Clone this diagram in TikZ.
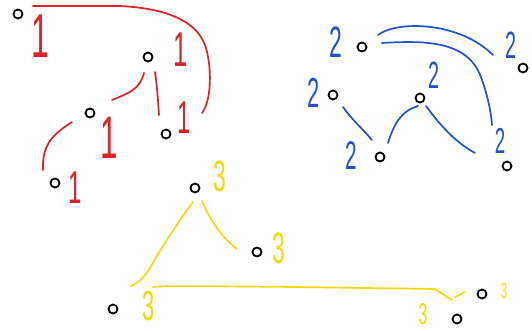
\documentclass[tikz,border=0pt]{standalone}
\usepackage{fontspec}
\usepackage{graphicx}
\setmainfont{Liberation Sans}
\definecolor{hred}{RGB}{222,34,38}
\definecolor{hblue}{RGB}{32,84,204}
\definecolor{hyel}{RGB}{242,218,10}
\newcommand\hdigit[2]{\scalebox{0.52}[1]{\fontsize{#1}{#1}\selectfont #2}}
\begin{document}
\begin{tikzpicture}[x=1pt,y=-1pt,
  dot/.style={circle,draw=black,line width=1.8pt,inner sep=0pt,minimum size=9pt},
  stroke/.style={line width=1.7pt,line cap=round},
  lbl/.style={inner sep=0pt,anchor=center}]
\useasboundingbox[fill=white] (0,0) rectangle (532,331);

% ---------- red group ----------
\node[dot] (a1) at (18,14) {};
\node[dot] (a2) at (148,57) {};
\node[dot] (a3) at (90,113) {};
\node[dot] (a4) at (166,134) {};
\node[dot] (a5) at (55,183) {};
\node[lbl,text=hred] (la1) at (40,36) {\hdigit{62}{1}};
\node[lbl,text=hred] (la2) at (181,50) {\hdigit{49}{1}};
\node[lbl,text=hred] (la3) at (109,138) {\hdigit{60}{1}};
\node[lbl,text=hred] (la4) at (184,118) {\hdigit{46}{1}};
\node[lbl,text=hred] (la5) at (75,188) {\hdigit{46}{1}};
\coordinate (r1s) at (33,6);
\coordinate (r1e) at (202,113);
\coordinate (r2s) at (144,73);
\coordinate (r2e) at (112,100);
\coordinate (r3s) at (155,72);
\coordinate (r3e) at (159,115);
\coordinate (r4s) at (72,122);
\coordinate (r4e) at (43,170);
\draw[stroke,hred] (r1s) -- (120,6) .. controls (160,8) and (195,18) .. (205,45)
  .. controls (212,65) and (212,100) .. (r1e);
\draw[stroke,hred] (r2s) .. controls (140,88) and (132,92) .. (r2e);
\draw[stroke,hred] (r3s) .. controls (157,85) and (158,100) .. (r3e);
\draw[stroke,hred] (r4s) .. controls (52,135) and (42,145) .. (r4e);

% ---------- blue group ----------
\node[dot] (c1) at (362,47) {};
\node[dot] (c2) at (523,68) {};
\node[dot] (c3) at (333,95) {};
\node[dot] (c4) at (420,98) {};
\node[dot] (c5) at (380,157) {};
\node[dot] (c6) at (507,166) {};
\node[lbl,text=hblue] (lc1) at (336,42) {\hdigit{44}{2}};
\node[lbl,text=hblue] (lc2) at (511,45) {\hdigit{38}{2}};
\node[lbl,text=hblue] (lc3) at (314,93) {\hdigit{42}{2}};
\node[lbl,text=hblue] (lc4) at (434,75) {\hdigit{38}{2}};
\node[lbl,text=hblue] (lc5) at (351,156) {\hdigit{40}{2}};
\node[lbl,text=hblue] (lc6) at (500,141) {\hdigit{36}{2}};
\coordinate (b1s) at (378,35);
\coordinate (b1e) at (493,55);
\coordinate (b2s) at (382,43);
\coordinate (b2e) at (492,125);
\coordinate (b3s) at (343,107);
\coordinate (b3e) at (372,140);
\coordinate (b4s) at (388,143);
\coordinate (b4e) at (418,106);
\coordinate (b5s) at (426,106);
\coordinate (b5e) at (475,153);
\draw[stroke,hblue] (b1s) .. controls (398,20) and (460,22) .. (b1e);
\draw[stroke,hblue] (b2s) .. controls (430,40) and (470,42) .. (482,80)
  .. controls (488,97) and (491,112) .. (b2e);
\draw[stroke,hblue] (b3s) .. controls (352,120) and (362,128) .. (b3e);
\draw[stroke,hblue] (b4s) .. controls (395,120) and (404,110) .. (b4e);
\draw[stroke,hblue] (b5s) .. controls (440,125) and (455,142) .. (b5e);

% ---------- yellow group ----------
\node[dot] (d1) at (195,188) {};
\node[dot] (d2) at (257,252) {};
\node[dot] (d3) at (113,309) {};
\node[dot] (d4) at (457,319) {};
\node[dot] (d5) at (482,294) {};
\node[lbl,text=hyel] (ld1) at (220,176) {\hdigit{44}{3}};
\node[lbl,text=hyel] (ld2) at (279,248) {\hdigit{44}{3}};
\node[lbl,text=hyel] (ld3) at (149,306) {\hdigit{42}{3}};
\node[lbl,text=hyel] (ld4) at (423,314) {\hdigit{30}{3}};
\node[lbl,text=hyel] (ld5) at (504,291) {\hdigit{22}{3}};
\coordinate (y1s) at (193,202);
\coordinate (y1e) at (131,286);
\coordinate (y2s) at (202,201);
\coordinate (y2e) at (237,249);
\coordinate (y3s) at (153,287);
\coordinate (y3e) at (452,300);
\coordinate (y4s) at (455,297);
\coordinate (y4e) at (465,292);
\draw[stroke,hyel] (y1s) .. controls (178,222) and (160,250) .. (150,268)
  .. controls (144,278) and (138,283) .. (y1e);
\draw[stroke,hyel] (y2s) .. controls (210,220) and (222,238) .. (y2e);
\draw[stroke,hyel] (y3s) .. controls (160,285) and (300,287) .. (435,289)
  -- (y3e);
\draw[stroke,hyel] (y4s) -- (y4e);
\end{tikzpicture}
\end{document}
